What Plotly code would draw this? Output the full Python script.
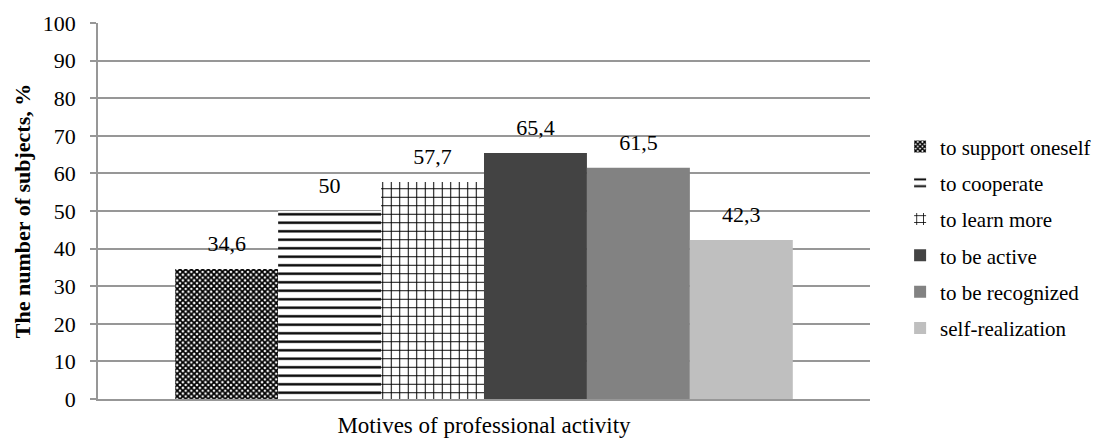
import plotly.graph_objects as go

# Survey results: share of subjects naming each motive
category = ["Motives of professional activity"]
motives = ["to support oneself", "to cooperate", "to learn more",
           "to be active", "to be recognized", "self-realization"]
shares = [34.6, 50, 57.7, 65.4, 61.5, 42.3]
y_ticks = [0, 10, 20, 30, 40, 50, 60, 70, 80, 90, 100]

FONT = "Liberation Serif, Times New Roman, serif"

# fill style per motive: (pattern shape, fg colour, bg colour, size, solidity)
styles = [
    ("x", "black", "white", 4, 0.7),
    ("-", "black", "white", 8.5, 0.28),
    ("+", "black", "white", 8.5, 0.22),
    ("", "#434343", None, None, None),
    ("", "#828282", None, None, None),
    ("", "#bfbfbf", None, None, None),
]


def fmt(v):
    s = f"{v:g}"
    return s.replace(".", ",")


fig = go.Figure()
for i, (name, val) in enumerate(zip(motives, shares)):
    shape, fg, bg, size, sol = styles[i]
    if shape:
        marker = dict(color=bg, line=dict(width=0),
                      pattern=dict(shape=shape, fgcolor=fg, bgcolor=bg,
                                   size=size, solidity=sol, fillmode="replace"))
    else:
        marker = dict(color=fg, line=dict(width=0))
    fig.add_trace(go.Bar(
        x=category, y=[val], name=name, marker=marker,
        legendgroup=name, hoverinfo="skip",
    ))

# value labels: grouped scatter points sit over the matching bars;
# the invisible marker keeps the text a little above each bar top
for name, val in zip(motives, shares):
    fig.add_trace(go.Scatter(
        x=category, y=[val], mode="markers+text",
        text=[fmt(val)], textposition="top center",
        textfont=dict(family=FONT, size=22, color="black"),
        marker=dict(size=18, opacity=0),
        showlegend=False, cliponaxis=False, hoverinfo="skip",
    ))

fig.update_layout(
    width=1108, height=438,
    margin=dict(l=98, r=238, t=23, b=39),
    paper_bgcolor="white", plot_bgcolor="white",
    barmode="group", bargap=0.2, bargroupgap=0,
    scattermode="group", scattergap=0.2,
    font=dict(family=FONT, size=22, color="black"),
    showlegend=True,
    legend=dict(x=1.039, xanchor="left", y=0.43, yanchor="middle",
                font=dict(family=FONT, size=21, color="black"),
                traceorder="grouped", tracegroupgap=6,
                itemwidth=30, bgcolor="rgba(0,0,0,0)"),
)

fig.update_yaxes(
    range=[0, 100], tickvals=y_ticks, ticktext=[str(t) for t in y_ticks],
    showgrid=True, gridcolor="#979797", gridwidth=1.5,
    showline=True, linecolor="#979797", linewidth=1.5,
    ticks="outside", ticklen=6, tickcolor="#979797", tickwidth=1.5,
    tickfont=dict(family=FONT, size=22, color="black"),
    ticklabelstandoff=10,
    zeroline=False, automargin=False,
    title=dict(text="<b>The number of subjects, %</b>",
               font=dict(family=FONT, size=22, color="black"), standoff=6),
)
fig.update_xaxes(
    showline=True, linecolor="#979797", linewidth=2,
    ticks="", showgrid=False, automargin=False,
    tickfont=dict(family=FONT, size=23, color="black"),
    ticklabelstandoff=4,
)

fig.write_html("out.html")
